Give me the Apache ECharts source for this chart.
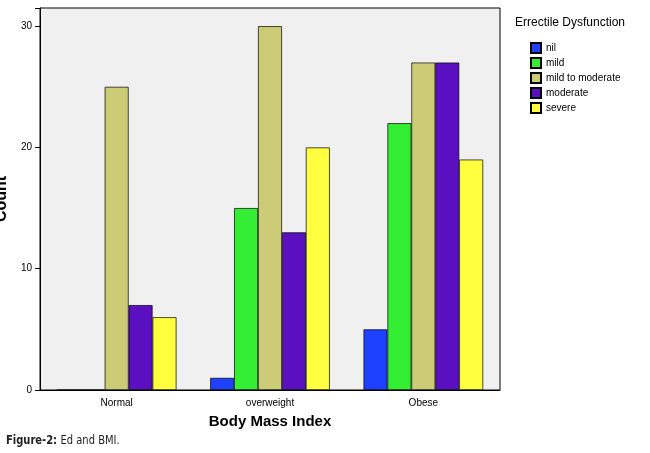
<!DOCTYPE html>
<html><head><meta charset="utf-8">
<script src="https://cdn.jsdelivr.net/npm/echarts@6/dist/echarts.min.js"></script>
<style>body{margin:0;background:#fff}#main{width:650px;height:453px}
#cap{position:absolute;left:6px;top:432px;font:bold 13px "Liberation Sans Narrow","DejaVu Sans Condensed",sans-serif;color:#222;transform:scaleX(0.85);transform-origin:left}
#cap span{font-weight:normal}</style>
</head><body>
<div id="main"></div>
<div id="cap">Figure-2: <span>Ed and BMI.</span></div>
<script>
var categories = ['Normal', 'overweight', 'Obese'];
var seriesNames = ['nil', 'mild', 'mild to moderate', 'moderate', 'severe'];
var nil = [0, 1, 5];
var mild = [0, 15, 22];
var mildToModerate = [25, 30, 27];
var moderate = [7, 13, 27];
var severe = [6, 20, 19];
var colors = ['#1e40ff', '#33ee33', '#cccc77', '#5a0fc0', '#ffff40'];

var myChart = echarts.init(document.getElementById('main'));
var data = [nil, mild, mildToModerate, moderate, severe];
var option = {
  animation: false,
  title: {
    text: 'Errectile Dysfunction', left: 510, top: 12,
    textStyle: {fontSize: 12, fontWeight: 'normal', fontFamily: 'Liberation Sans', color: '#000'}
  },
  legend: {
    orient: 'vertical', left: 525, top: 37, itemWidth: 10, itemHeight: 10, itemGap: 3, icon: 'rect',
    textStyle: {fontSize: 10, fontFamily: 'Liberation Sans', color: '#000'},
    data: seriesNames
  },
  grid: {left: 40, right: 150, top: 8, bottom: 63, containLabel: false, outerBoundsMode: 'none',
    show: true, backgroundColor: '#f0f0f0', borderColor: '#000', borderWidth: 1},
  xAxis: {
    type: 'category', data: categories,
    name: 'Body Mass Index', nameLocation: 'middle', nameGap: 24,
    nameTextStyle: {fontSize: 15, fontWeight: 'bold', fontFamily: 'Liberation Sans', color: '#000'},
    axisTick: {show: false},
    axisLine: {lineStyle: {color: '#000'}},
    axisLabel: {fontSize: 10, fontFamily: 'Liberation Sans', color: '#000'}
  },
  yAxis: {
    type: 'value', min: 0, max: 31.5, interval: 10,
    name: 'Count', nameLocation: 'middle', nameGap: 22,
    nameTextStyle: {fontSize: 16, fontWeight: 'bold', fontFamily: 'Liberation Sans', color: '#000'},
    splitLine: {show: false},
    axisLine: {show: true, lineStyle: {color: '#000'}},
    axisTick: {show: true},
    axisLabel: {fontSize: 10, fontFamily: 'Liberation Sans', color: '#000', formatter: function (v) { return v % 10 === 0 ? v : ''; }}
  },
  series: seriesNames.map(function (n, i) {
    return {
      name: n, type: 'bar', data: data[i], barGap: '0%', barCategoryGap: '22%',
      itemStyle: {color: colors[i], borderColor: '#000', borderWidth: 0.7}
    };
  })
};
myChart.setOption(option);
</script>
</body></html>
